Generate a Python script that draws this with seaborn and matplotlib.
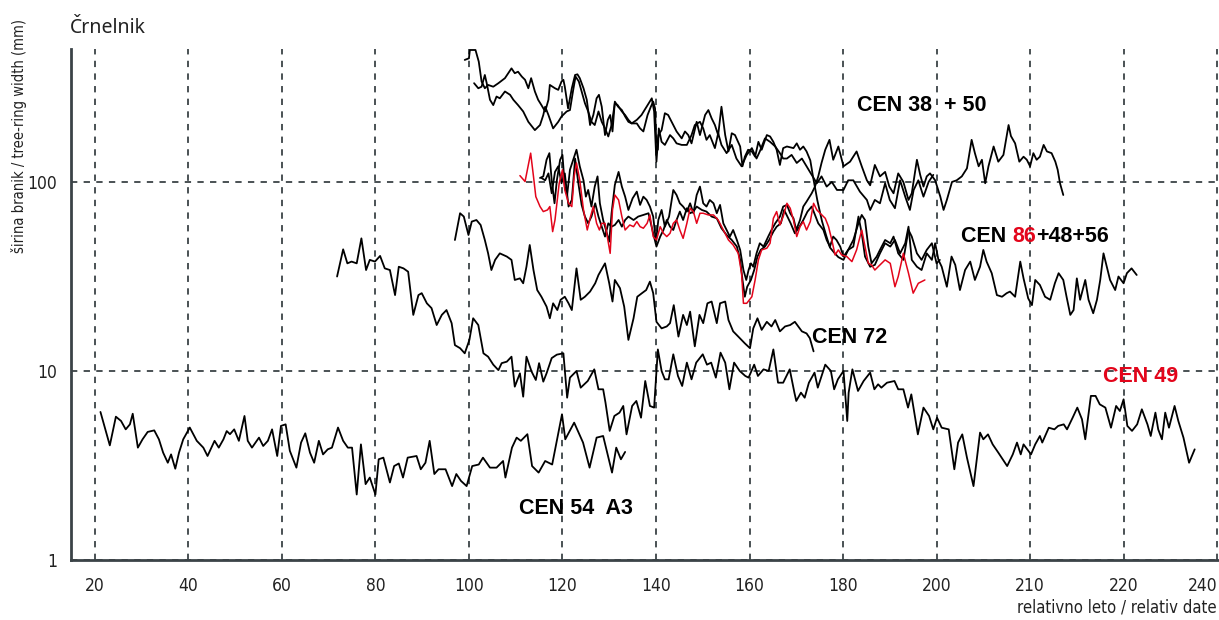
import matplotlib
matplotlib.use("Agg")
import matplotlib.pyplot as plt
import seaborn as sns
import pandas as pd
import numpy as np
from matplotlib.ticker import FixedLocator, NullFormatter

# ---------------- data (relative year, ring width) ----------------
cen54_years = [21.2, 23.2, 24.5, 25.6, 26.6, 27.5, 28.1, 29.2, 30.2, 31.3, 32.7, 33.7, 34.6, 35.6, 36.3, 37.2, 38.0, 38.9, 40.3, 41.8,
               43.2, 44.1, 45.6, 46.5, 47.5, 48.2, 48.9, 49.8, 50.8, 52.0, 52.7, 53.6, 55.1, 56.0, 57.0, 57.9, 59.0, 59.8, 60.8, 61.7,
               63.1, 64.1, 65.0, 66.0, 66.9, 67.9, 68.8, 69.8, 70.7, 72.0, 73.1, 74.1, 75.0, 76.0, 76.9, 77.9, 78.8, 80.0, 80.7, 81.7,
               83.1, 84.0, 85.0, 85.9, 86.9, 88.8, 89.7, 90.7, 91.6, 92.6, 93.5, 95.0, 96.4, 97.3, 98.3, 99.5, 100.7, 102.1, 103.0, 104.5,
               105.9, 107.3, 107.8, 109.2, 110.2, 111.1, 112.5, 113.5, 114.9, 116.3, 117.8, 119.9, 120.6, 122.5, 124.4, 125.8, 127.3, 128.7, 130.6, 131.5,
               132.5, 133.4]
cen54_width = [6.07, 4.04, 5.73, 5.44, 4.91, 5.22, 5.94, 3.93, 4.35, 4.76, 4.85, 4.35, 3.70, 3.27, 3.62, 3.04, 3.70, 4.35, 5.02, 4.27,
               3.93, 3.55, 4.27, 3.93, 4.35, 4.81, 4.63, 4.91, 4.27, 5.78, 4.27, 3.93, 4.44, 4.01, 4.27, 4.91, 3.55, 5.12, 5.22, 3.78,
               3.08, 4.18, 4.68, 3.70, 3.27, 4.27, 3.62, 3.85, 3.93, 5.02, 4.27, 3.93, 3.93, 2.22, 4.09, 2.52, 2.73, 2.22, 3.41, 3.48,
               2.57, 3.14, 3.24, 2.73, 3.48, 3.55, 3.02, 3.27, 4.27, 2.85, 3.02, 3.02, 2.46, 2.85, 2.62, 2.46, 3.14, 3.20, 3.48, 3.08,
               3.08, 3.34, 2.73, 3.93, 4.44, 4.27, 4.63, 3.14, 2.90, 3.34, 3.20, 5.90, 4.35, 5.33, 4.18, 3.08, 4.44, 4.53, 2.90, 3.93,
               3.41, 3.73]

cen49_years = [71.8, 73.1, 74.0, 74.9, 76.0, 77.0, 78.0, 78.8, 79.9, 81.0, 82.0, 83.1, 84.2, 85.0, 86.0, 87.0, 88.1, 89.2, 89.9, 91.0,
               92.0, 93.1, 94.2, 95.2, 96.3, 97.0, 98.1, 99.1, 100.1, 100.9, 102.0, 103.1, 104.1, 105.2, 106.3, 107.0, 108.1, 109.1, 109.8, 110.9,
               111.6, 112.3, 113.4, 114.3, 115.0, 115.9, 116.6, 117.7, 118.8, 120.2,
               121.0, 121.6, 123.0, 123.9, 125.4, 126.8, 127.7, 128.7, 129.2, 130.1, 131.1, 132.2, 133.0, 133.7, 134.9, 135.8, 136.8, 137.7, 138.7, 139.6,
               140.4, 141.2, 141.9, 142.7, 143.7, 144.7, 145.6, 146.6, 147.6, 148.6, 150.0, 150.9, 151.8, 152.8, 153.8, 154.8, 155.7, 156.7, 157.9, 159.1,
               159.8, 161.0, 161.8, 163.0, 164.1, 165.1, 166.1, 167.2, 168.6, 169.6, 170.0, 171.0, 171.8, 172.7, 173.9, 174.6, 176.2, 177.4, 178.1, 178.9,
               180.1, 180.9, 181.2, 182.0, 183.2, 184.4, 185.8, 186.7, 187.5, 188.2, 189.4, 191.0, 191.8, 192.9, 193.9, 194.6, 196.0, 197.2, 198.4, 199.3,
               200.1, 201.1, 202.6, 203.8, 204.6, 205.5, 206.5, 207.9, 209.3, 210.0, 211.0, 212.0, 213.2, 215.1, 216.3, 217.2, 218.0, 218.6, 219.4, 220.2,
               221.1, 222.1, 222.6, 224.0, 225.2, 226.0, 227.2, 227.9, 229.1, 230.1, 231.1, 231.8, 233.0, 234.0, 234.9, 236.1, 237.3, 238.4, 239.2, 240.0,
               240.8, 241.8, 242.9, 243.9, 245.1, 245.8, 246.8, 247.4, 248.2, 248.9, 249.7, 250.9, 251.7, 252.8, 254.0, 255.2]
cen49_width = [31.6, 44.0, 37.1, 37.9, 37.1, 50.3, 34.2, 38.7, 37.9, 40.6, 34.9, 34.2, 25.2, 35.6, 34.9, 33.5, 19.8, 25.2, 25.8, 22.8,
               21.5, 17.5, 19.8, 21.0, 17.9, 13.7, 13.2, 12.4, 14.6, 19.0, 17.5, 12.4, 11.9, 10.8, 10.1, 11.0, 11.2, 11.9, 8.26, 9.72,
               7.31, 11.9, 9.92, 8.96, 11.0, 8.78, 9.72, 11.7, 12.2, 12.4,
               7.22, 9.22, 10.0, 8.16, 8.85, 10.2, 8.0, 8.0, 6.80, 4.82, 5.78, 6.02, 6.53, 4.62, 6.53, 6.94, 5.66, 8.85, 6.53, 6.40,
               13.0, 10.0, 9.03, 9.03, 12.25, 9.41, 8.33, 11.07, 9.03, 11.07, 12.25, 10.8, 11.07, 9.22, 12.5, 11.07, 8.0, 11.07, 10.0, 9.41,
               9.22, 10.8, 9.41, 10.2, 10.0, 13.0, 8.67, 8.67, 10.2, 7.68, 6.94, 7.68, 7.22, 8.67, 9.8, 8.16, 10.8, 10.0, 8.0, 9.03,
               10.0, 5.44, 7.68, 10.2, 7.84, 8.85, 9.8, 8.0, 8.50, 8.16, 8.67, 8.85, 8.0, 8.0, 6.40, 7.52, 4.62, 6.40, 5.78, 4.91,
               5.66, 5.01, 4.91, 3.02, 4.18, 4.62, 3.48, 2.46, 4.72, 4.35, 4.62, 4.09, 3.70, 3.14, 3.62, 4.18, 3.62, 4.09, 3.85, 3.62,
               4.09, 4.53, 4.18, 5.01, 4.91, 5.12, 5.22, 4.91, 5.66, 6.40, 5.55, 4.35, 7.38, 7.38, 6.66, 6.40, 5.01, 6.53, 6.14, 7.08,
               5.12, 4.82, 5.22, 6.27, 5.22, 4.53, 6.02, 4.91, 4.35, 6.02, 5.01, 6.53, 5.44, 4.44, 3.27, 3.85]

cen72_years = [97.0, 98.1, 98.9, 99.9, 100.6, 101.6, 102.5, 103.4, 104.1, 104.8, 105.6, 106.6, 108.1, 109.1, 109.8, 110.9, 111.6, 112.3, 113.0, 113.8,
               114.6, 115.5, 116.6, 117.3, 118.0, 118.9, 119.6, 120.5, 121.3, 122.0, 123.0, 123.9, 124.8, 125.9, 127.0, 127.7, 129.1, 130.0, 130.7, 131.2,
               132.3, 133.2, 134.1, 135.2, 136.0, 137.0, 137.9, 138.7, 139.4, 140.1, 141.2, 142.3, 143.0, 143.8, 144.8, 145.8, 146.6, 147.3, 148.3, 149.3,
               150.1, 151.0, 151.9, 153.0, 153.7, 154.8, 155.5, 156.5, 157.6, 159.0, 160.1, 160.8, 161.7, 162.6, 163.7, 164.7, 165.5, 166.5, 167.6, 168.7,
               169.7, 171.2, 172.2, 172.9, 173.7]
cen72_width = [49.3, 68.3, 65.6, 52.4, 61.7, 62.9, 59.2, 49.3, 41.9, 34.2, 38.7, 41.9, 40.3, 38.7, 30.3, 30.9, 29.1, 35.6, 46.4, 34.2,
               26.8, 24.7, 21.9, 19.0, 22.8, 21.0, 23.8, 24.7, 22.8, 21.0, 34.9, 23.8, 24.7, 26.3, 29.1, 32.2, 37.1, 29.1, 23.3, 30.3,
               27.4, 21.9, 14.6, 19.0, 24.7, 25.8, 26.8, 29.7, 25.8, 18.2, 16.8, 17.2, 17.9, 22.3, 15.2, 19.8, 17.5, 20.6, 13.5, 19.8,
               17.9, 22.8, 23.3, 17.9, 22.8, 23.3, 18.6, 16.2, 15.2, 14.0, 13.2, 16.8, 19.0, 16.5, 18.2, 17.2, 18.6, 16.2, 17.2, 17.5,
               18.2, 16.2, 15.8, 14.9, 12.7]

# CEN 38 (upper curve, later drops into the lower group)
cen38_years = [99.1, 100.0, 100.2, 101.4, 102.1, 102.7, 103.4, 104.1, 105.2, 106.3, 107.7, 109.1, 109.8, 110.5, 111.3, 112.0, 112.7, 113.3, 114.1, 114.8,
               115.5, 116.3, 117.0, 117.3, 118.4, 119.1, 119.8, 120.2, 120.5, 121.2, 122.0, 122.7, 123.2, 123.7, 124.5, 125.2, 125.9, 126.6, 127.3, 127.8,
               128.4, 129.1, 129.7, 130.2, 130.7, 131.2, 131.9, 132.7, 133.4, 134.1, 134.8, 135.9, 136.9, 138.0, 139.1, 139.6, 140.1, 140.5, 141.2, 141.9,
               142.6, 143.7, 144.4, 145.5, 146.2, 146.9, 147.6, 148.7, 149.4, 150.5, 151.2, 151.9, 152.6, 153.3, 154.0, 154.8, 155.5, 156.2, 156.9, 158.0,
               158.5, 159.0, 159.7, 160.5, 161.2, 161.9, 162.6, 163.7, 164.4, 165.1, 165.8, 166.5, 167.2,
               168.0, 169.4, 170.1, 170.8, 171.5, 172.2, 173.0, 173.6, 174.5, 175.5, 176.4, 177.2, 178.2, 179.0,
               180.1, 181.1, 182.2, 183.3, 184.0, 184.7, 185.8, 186.8, 187.9, 189.0, 190.1, 191.1, 192.2, 193.3, 194.0, 194.7, 195.8, 196.8, 197.9, 199.0,
               199.7, 200.4, 201.1, 202.2, 203.2, 204.0, 205.0, 206.1, 207.2, 208.2, 209.3, 210.0, 210.7, 211.8, 212.9, 214.0, 215.0, 215.7, 216.8, 217.9,
               218.6, 219.6, 220.4, 221.1, 222.1, 223.2, 224.3, 225.3, 226.1, 227.1, 227.8, 228.6, 229.3, 230.0, 230.7, 231.8, 232.5, 233.5, 234.3, 235.0,
               235.7, 236.4, 237.1, 238.2, 238.9, 240.0, 240.7, 241.7, 242.8]
cen38_width = [442, 451, 499, 499, 433, 340, 313, 326, 319, 333, 354, 399, 376, 383, 361, 347, 313, 354, 301, 272,
               255, 236, 272, 326, 313, 307, 340, 347, 319, 245, 313, 368, 371, 354, 313, 272, 200, 226, 277, 289,
               250, 177, 213, 226, 185, 266, 250, 240, 222, 208, 204, 213, 226, 250, 277, 236, 128, 177, 188, 231,
               226, 200, 185, 170, 185, 177, 160, 208, 177, 226, 240, 217, 200, 177, 250, 177, 145, 181, 177, 154,
               121, 136, 148, 145, 136, 163, 148, 177, 174, 163, 148, 123, 151,
               154, 151, 160, 148, 154, 145, 130, 106, 80, 62, 52, 45, 42, 40,
               38.7, 43.7, 45.5, 65.6, 53.5, 40.3, 35.6, 36.4, 41.9, 47.4, 45.5, 49.3, 41.9, 47.4, 58.0, 38.7, 35.6, 34.2, 41.9, 38.7,
               47.4, 38.7, 35.6, 27.9, 40.3, 36.4, 26.8, 34.2, 37.9, 30.3, 35.6, 43.7, 37.9, 32.9, 25.2, 24.7, 25.8, 26.3, 24.7, 37.9,
               30.9, 24.2, 22.3, 30.3, 28.5, 24.7, 23.8, 29.1, 32.9, 30.3, 24.7, 19.8, 21.0, 30.9, 23.8, 30.3, 23.8, 20.2, 23.8, 30.3,
               41.9, 35.6, 30.3, 26.8, 31.6, 29.1, 32.9, 34.9, 32.2]

cen50_years = [101.1, 102.0, 102.7, 103.4, 103.8, 104.5, 105.2, 105.9, 106.6, 107.7, 108.8, 109.5, 110.5, 111.6, 112.7, 114.1, 115.2, 115.9, 116.3, 117.0,
               118.0, 119.1, 119.8, 120.9, 121.6, 122.3, 122.8, 123.5, 124.1, 124.8, 125.5, 126.2, 126.9, 127.7, 128.4, 129.1, 129.8, 130.5, 131.2, 131.8,
               132.7, 133.4, 134.1, 134.8, 135.9, 136.6, 137.3, 138.2, 138.9, 139.4, 139.8, 140.0, 140.4, 140.6, 141.2, 141.9, 143.0, 143.7, 144.4, 145.5,
               146.6, 147.6, 148.3, 149.4, 150.1, 150.8, 151.5, 152.6, 153.3, 154.0, 155.1, 156.2, 157.2, 158.3, 159.4, 160.5, 161.5, 162.2, 163.3, 164.4,
               165.5, 166.5, 167.2,
               168.0, 169.0, 170.1, 171.2, 172.2, 173.3, 174.4, 175.4, 176.5, 177.6, 178.7, 180.1, 181.1, 182.2, 183.6, 185.1, 185.8, 186.8, 187.9, 189.0,
               190.0, 191.1, 192.2, 193.3, 194.3, 195.1, 196.1, 197.2, 198.3, 199.3]
cen50_width = [333, 313, 319, 368, 333, 272, 255, 283, 277, 301, 289, 272, 255, 236, 208, 188, 200, 226, 250, 226,
               192, 208, 222, 236, 240, 307, 361, 340, 301, 261, 236, 208, 200, 236, 208, 192, 174, 200, 261, 255,
               236, 226, 213, 204, 204, 192, 185, 226, 250, 266, 245, 177, 148, 192, 163, 157, 177, 170, 160, 157,
               157, 177, 200, 208, 192, 167, 177, 151, 181, 157, 142, 157, 133, 121, 139, 151, 133, 145, 170, 163,
               154, 142, 133,
               133, 139, 126, 133, 121, 109, 98.4, 107, 94.5, 100, 90.7, 90.7, 102, 102, 88.9, 80.3, 71.1, 80.3, 77.1, 98.4,
               80.3, 72.6, 102, 83.6, 71.1, 90.7, 102, 83.6, 100, 109]

# CEN 48 (starts in the lower group, climbs into the upper one)
cen48_years = [115.2, 115.9, 116.6, 117.2, 117.7, 118.3, 118.8, 119.5, 120.0, 120.5, 121.0, 121.6, 122.5, 123.0, 123.7, 124.5, 125.0, 125.5, 126.2, 126.9,
               127.5, 128.0, 128.7, 129.5, 130.0, 130.5, 131.2, 132.0, 132.7, 133.4, 134.1, 135.0, 135.9, 136.6, 137.3, 138.0, 138.7, 139.4, 140.0, 140.5,
               141.2, 141.9, 142.8, 143.7, 144.4, 145.1, 145.8, 146.6, 147.3, 148.0, 148.7, 149.4, 150.1, 150.8, 151.5, 152.3, 153.0, 153.7, 154.4, 155.1,
               155.8, 156.5, 157.3, 158.0, 158.7, 159.3, 159.8, 160.3, 160.8, 161.5, 162.2, 163.0, 164.0, 164.7, 165.5, 166.5, 167.2, 168.0, 168.7, 169.4,
               170.0, 170.8, 171.5, 172.2, 173.3, 174.0, 174.7, 175.4, 176.2,
               177.1, 177.9, 179.0, 180.1, 181.5, 182.9, 184.0, 185.1, 185.8, 186.8, 187.9, 189.0, 189.9, 190.8, 191.8, 192.9, 194.0, 194.7, 195.8, 196.5,
               197.2, 197.9, 198.6, 199.7, 200.8, 201.5, 202.2, 203.3, 204.3, 205.4, 206.5, 207.5, 208.2, 209.0, 209.7, 210.4, 211.1, 212.2, 213.2, 214.3,
               215.4, 215.9, 216.8, 217.7, 218.6, 219.3, 220.0, 220.7, 221.4, 222.1, 222.9, 223.6, 224.6, 225.4, 225.9, 226.4, 227.1]
cen48_width = [105, 107, 131, 142, 102, 77.1, 102, 131, 139, 94.5, 85.3, 116, 136, 148, 121, 102, 83.6, 90.7, 74.1, 94.5,
               107, 77.1, 62.9, 53.5, 48.3, 68.3, 96.4, 113, 94.5, 83.6, 71.1, 81.9, 88.9, 75.6, 83.6, 80.3, 74.1, 65.6, 48.3, 62.9,
               71.1, 58.0, 65.6, 90.7, 85.3, 77.1, 74.1, 69.7, 77.1, 68.3, 85.3, 94.5, 77.1, 74.1, 80.3, 77.1, 68.3, 75.6, 60.4, 55.7,
               51.4, 55.7, 49.3, 43.7, 34.2, 30.3, 34.2, 37.1, 35.6, 41.9, 47.4, 45.5, 51.4, 55.7, 60.4, 65.6, 74.1, 75.6, 68.3, 64.2,
               55.7, 62.9, 74.1, 78.7, 87.1, 94.5, 107, 126, 148,
               167, 131, 154, 121, 128, 145, 121, 102, 96, 123, 107, 113, 94.5, 87.1, 111, 100, 80.3, 87.1, 131, 109,
               94.5, 107, 111, 102, 83.6, 71.1, 80.3, 100, 102, 107, 118, 167, 142, 121, 131, 98.4, 121, 154, 128, 139,
               200, 175, 160, 128, 136, 131, 121, 142, 131, 136, 157, 145, 142, 128, 116, 98.4, 85.3]

cen56_years = [115.5, 116.3, 117.0, 117.7, 118.4, 119.1, 119.8, 120.5, 121.3, 122.0, 122.7, 123.4, 124.1, 124.8, 125.5, 126.2, 127.0, 127.7, 128.4, 129.1,
               129.8, 130.5, 131.2, 132.0, 132.7, 133.4, 134.1, 135.2, 136.2, 137.3, 138.4, 139.4, 140.1, 140.9, 141.6, 142.3, 143.0, 143.7, 144.4, 145.1,
               145.8, 146.6, 147.3, 148.0, 148.7, 149.8, 150.8, 151.9, 153.0, 154.0, 155.1, 156.2, 157.3, 158.0, 158.5, 159.0, 159.5, 160.3, 161.0, 161.7,
               162.4, 163.3, 164.2, 165.1, 165.8, 166.7, 167.4, 168.1, 168.8, 169.7, 170.7, 171.5, 172.4, 173.3, 174.0, 174.7, 175.8, 176.5, 177.2, 177.9,
               178.6, 179.4, 180.1, 181.1, 182.2, 183.3, 184.0, 184.7, 185.4, 186.1, 187.2, 187.9, 189.0, 190.1, 190.8, 191.8, 192.9, 194.0, 194.7, 195.8,
               196.8, 197.9, 199.0, 200.0, 200.7]
cen56_width = [105, 102, 111, 87.1, 113, 121, 98.4, 111, 74.1, 80.3, 133, 98.4, 75.6, 65.6, 60.4, 65.6, 77.1, 65.6, 58.0, 51.4,
               60.4, 58.0, 59.2, 62.9, 58.0, 62.9, 65.6, 62.9, 65.6, 66.9, 68.3, 53.5, 45.5, 51.4, 55.7, 62.9, 58.0, 55.7, 62.9, 69.7,
               62.9, 72.6, 68.3, 69.7, 74.1, 71.1, 69.7, 65.6, 64.2, 56.9, 52.4, 49.3, 45.5, 38.7, 30.3, 24.7, 27.9, 30.3, 34.2, 40.3,
               43.7, 45.5, 49.3, 54.6, 58.0, 60.4, 71.1, 65.6, 60.4, 53.5, 58.0, 62.9, 69.7, 74.1, 66.9, 60.4, 55.7, 49.3, 45.5, 51.4,
               49.3, 45.5, 40.3, 43.7, 49.3, 60.4, 66.9, 62.9, 45.5, 37.1, 40.3, 43.7, 49.3, 47.4, 51.4, 41.9, 38.7, 55.7, 51.4, 41.9,
               38.7, 43.7, 47.4, 37.1, 38.7]

cen86_years = [110.9, 112.0, 112.7, 113.2, 113.8, 114.3, 115.2, 115.9, 116.8, 117.3, 117.9, 118.4, 119.3, 120.0, 120.5, 121.3, 122.0, 122.5, 123.0, 123.7,
               124.5, 125.3, 126.0, 126.6, 127.3, 127.9, 128.4, 129.1, 130.2, 130.7, 131.2, 132.0, 132.7, 133.4, 134.4, 135.2, 135.9, 136.6, 137.3, 138.1,
               138.7, 139.4, 140.1, 140.9, 141.6, 142.3, 143.0, 143.7, 144.4, 145.1, 145.8, 146.6, 147.3, 148.0, 148.7, 149.4, 150.1, 151.2, 152.3, 153.3,
               154.4, 155.5, 156.5, 157.6, 158.3, 158.7, 159.4, 160.5, 161.2, 161.9, 162.6, 163.7, 164.4, 165.1, 165.8, 166.5, 167.2, 168.0, 168.7, 169.4,
               170.1, 170.8, 171.5, 172.2, 173.0, 173.7, 174.4, 175.1, 176.2, 176.9, 177.6, 178.3, 179.0, 179.7, 180.8, 181.9, 182.9, 184.0, 184.7, 185.4,
               186.1, 186.8, 187.9, 189.0, 190.1, 191.1, 191.8, 192.9, 194.0, 195.0, 196.1, 197.5]
cen86_width = [108, 100.5, 123, 142, 107, 83.6, 74.1, 69.7, 71.1, 74.1, 54.6, 62.9, 98.4, 116, 90.7, 77.1, 74.1, 107, 126, 102,
               71.1, 55.7, 65.6, 74.1, 60.4, 55.7, 60.4, 60.4, 41.9, 71.1, 85.3, 80.3, 65.6, 55.7, 59.2, 58.0, 61.7, 58.0, 56.9, 60.4,
               66.9, 51.4, 49.3, 58.0, 53.5, 51.4, 53.5, 60.4, 62.9, 55.7, 50.3, 60.4, 72.6, 69.7, 60.4, 68.3, 68.3, 66.9, 66.9, 62.9,
               55.7, 49.3, 46.4, 41.9, 32.9, 22.8, 22.8, 24.7, 30.3, 38.7, 43.7, 44.6, 47.4, 64.2, 69.7, 59.2, 65.6, 77.1, 72.6, 62.9,
               51.4, 58.0, 61.7, 55.7, 61.7, 77.1, 71.1, 68.3, 64.2, 58.0, 49.3, 41.1, 43.7, 41.1, 40.3, 37.9, 43.7, 55.7, 45.5, 37.1,
               36.4, 34.2, 36.4, 38.7, 37.1, 27.9, 31.6, 41.9, 32.9, 25.8, 29.1, 30.3]

x_tick_pos = [20, 40, 60, 80, 100, 120, 140, 160, 180, 200, 220, 240, 260]
x_tick_labels = ["20", "40", "60", "80", "100", "120", "140", "160", "180", "200", "210", "220", "240"]
y_tick_pos = [1, 10, 100]
y_tick_labels = ["1", "10", "100"]

# ---------------- style ----------------
RED = "#e3051b"
BLACK = "#000000"
AXC = "#3b4347"
TXT = "#222222"

sns.set_theme(style="white")
plt.rcParams["font.family"] = ["DejaVu Sans"]
COND = dict(family=["DejaVu Sans"], stretch="condensed")
BOLD = ["Liberation Sans", "DejaVu Sans"]

W, H = 1219, 620
fig = plt.figure(figsize=(W / 100, H / 100), dpi=100)
fig.patch.set_facecolor("white")
ax = fig.add_axes([71 / W, 60 / H, (W - 71) / W, 511 / H])
ax.set_facecolor("white")

series = [
    ("CEN 54", cen54_years, cen54_width, BLACK, 1.3),
    ("CEN 49", cen49_years, cen49_width, BLACK, 1.3),
    ("CEN 72", cen72_years, cen72_width, BLACK, 1.3),
    ("CEN 38", cen38_years, cen38_width, BLACK, 1.3),
    ("CEN 50", cen50_years, cen50_width, BLACK, 1.3),
    ("CEN 48", cen48_years, cen48_width, BLACK, 1.3),
    ("CEN 56", cen56_years, cen56_width, BLACK, 1.3),
    ("CEN 86", cen86_years, cen86_width, RED, 1.1),
]
for name, yrs, vals, col, lw in series:
    if len(yrs) != len(vals):
        raise ValueError(f"{name}: {len(yrs)} years vs {len(vals)} widths")
    df = pd.DataFrame({"year": yrs, "width": vals})
    sns.lineplot(data=df, x="year", y="width", ax=ax, color=col, linewidth=lw,
                 estimator=None, sort=False, legend=False, zorder=3)

ax.set_yscale("log")
ax.set_xlim(14.9, 260.4)
ax.set_ylim(1, 505)

ax.xaxis.set_major_locator(FixedLocator(x_tick_pos))
ax.set_xticklabels(x_tick_labels)
ax.xaxis.set_minor_locator(FixedLocator(list(np.arange(15, 261, 5))))
ax.xaxis.set_minor_formatter(NullFormatter())
ax.yaxis.set_major_locator(FixedLocator(y_tick_pos))
ax.set_yticklabels(y_tick_labels)
ax.yaxis.set_minor_locator(FixedLocator([2.85, 5.4, 7.6, 28.5, 54, 76]))
ax.yaxis.set_minor_formatter(NullFormatter())

ax.grid(True, which="major", axis="both", linestyle=(0, (3.5, 3.5)), linewidth=1.3, color=AXC, zorder=1)
ax.set_axisbelow(True)

for s in ["top", "right"]:
    ax.spines[s].set_visible(False)
for s in ["left", "bottom"]:
    ax.spines[s].set_color(AXC)
    ax.spines[s].set_linewidth(2)
    ax.spines[s].set_zorder(4)

ax.tick_params(axis="x", which="major", direction="inout", length=14, width=1.6, color=AXC,
               labelsize=12.5, pad=5, labelcolor=TXT)
ax.tick_params(axis="x", which="minor", direction="inout", length=8, width=1.3, color=AXC)
ax.tick_params(axis="y", which="major", direction="out", length=8, width=1.6, color=AXC,
               labelsize=12.5, pad=2, labelcolor=TXT)
ax.tick_params(axis="y", which="minor", direction="out", length=5, width=1.3, color=AXC)
for lab in ax.get_xticklabels() + ax.get_yticklabels():
    lab.set_fontfamily(["DejaVu Sans"])
    lab.set_fontstretch("condensed")
ax.get_xticklabels()[-1].set_horizontalalignment("right")
ax.set_xlabel("")
ax.set_ylabel("")

# titles and axis captions
fig.text(70 / W, 1 - 33 / H, "Črnelnik", fontsize=14, family=["Noto Sans", "DejaVu Sans"],
         ha="left", va="baseline", color=TXT)
fig.text(19 / W, 1 - 136 / H, "širina branik / tree-ring width (mm)", rotation=90,
         fontsize=10.5, ha="center", va="center", color=TXT, **COND)
fig.text(1217 / W, 1 - 608 / H, "relativno leto / relativ date", fontsize=12,
         ha="right", va="center", color=TXT, **COND)

# series labels
lbl = dict(fontsize=15.5, fontweight="bold", family=BOLD, va="baseline", ha="left", zorder=6)
ax.text(183.0, 237, "CEN 38  + 50", color=BLACK, **lbl)
ax.text(173.3, 14.1, "CEN 72", color=BLACK, **lbl)
ax.text(235.6, 8.69, "CEN 49", color=RED, **lbl)
ax.text(110.7, 1.76, "CEN 54  A3", color=BLACK, **lbl)

# multi-coloured label "CEN 86+48+56"
fig.canvas.draw()
renderer = fig.canvas.get_renderer()
inv = ax.transData.inverted()
x_cur = 205.2
for part, col in [("CEN ", BLACK), ("86", RED), ("+48+56", BLACK)]:
    t = ax.text(x_cur, 47.9, part, color=col, **lbl)
    bb = t.get_window_extent(renderer)
    x_cur = inv.transform((bb.x1, bb.y0))[0]

fig.savefig("out.png", dpi=100, facecolor="white")
